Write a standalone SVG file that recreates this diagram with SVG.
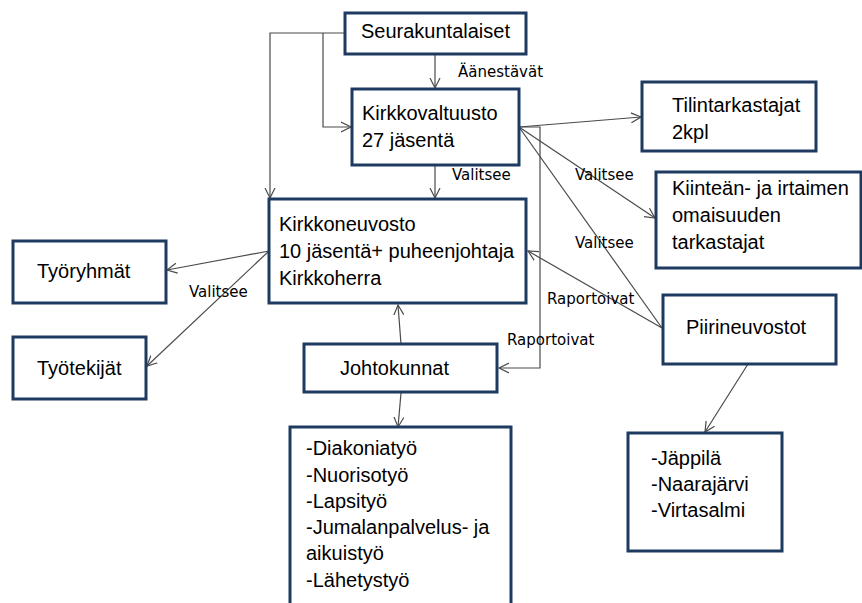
<svg xmlns="http://www.w3.org/2000/svg" width="862" height="603" viewBox="0 0 862 603">
<style>
.box{fill:#fff;stroke:#1f3a60;stroke-width:3}
.t{font-family:"Liberation Sans",Arial,sans-serif;font-size:20px;fill:#000}
.lbl{font-family:"DejaVu Sans",Verdana,sans-serif;font-size:15px;fill:#000}
.c{fill:none;stroke:#4a4a4a;stroke-width:1.2}
.a{marker-end:url(#arr)}
</style>
<defs>
<marker id="arr" markerUnits="userSpaceOnUse" markerWidth="12" markerHeight="12" refX="10" refY="5" orient="auto" viewBox="0 0 12 10">
<path d="M0,0 L10,5 L0,10" fill="none" stroke="#4a4a4a" stroke-width="1.2"/>
</marker>
</defs>
<rect width="862" height="603" fill="#fff"/>
<g id="connectors">
<line class="c a" x1="435" y1="54" x2="435" y2="88"/>
<line class="c a" x1="435" y1="165" x2="435" y2="198"/>
<polyline class="c a" points="345,33 270,33 270,198"/>
<polyline class="c a" points="323,33 323,127 351,127"/>
<line class="c a" x1="519" y1="127" x2="641" y2="117"/>
<line class="c a" x1="519" y1="127" x2="655" y2="218"/>
<line class="c" x1="519" y1="127" x2="662" y2="328"/>
<line class="c a" x1="662" y1="328" x2="528" y2="251"/>
<polyline class="c a" points="519,127 540,127 540,368 499,368" stroke="#7a7a7a"/>
<line class="c a" x1="401" y1="344" x2="398" y2="305"/>
<line class="c a" x1="401" y1="393" x2="398" y2="427"/>
<line class="c a" x1="269" y1="251" x2="167" y2="270"/>
<line class="c a" x1="269" y1="251" x2="147" y2="366"/>
<line class="c a" x1="748" y1="364" x2="705" y2="432"/>
<text class="lbl" x="458" y="77">Äänestävät</text>
<text class="lbl" x="452" y="180">Valitsee</text>
<text class="lbl" x="575" y="180">Valitsee</text>
<text class="lbl" x="575" y="248">Valitsee</text>
<text class="lbl" x="547" y="304">Raportoivat</text>
<text class="lbl" x="507" y="345">Raportoivat</text>
<text class="lbl" x="189" y="297">Valitsee</text>
</g>
<g id="seurakuntalaiset">
<rect class="box" x="345" y="13" width="181" height="41"/>
<text class="t" x="435.5" y="38" text-anchor="middle">Seurakuntalaiset</text>
</g>
<g id="kirkkovaltuusto">
<rect class="box" x="352" y="89" width="167" height="76"/>
<text class="t" x="362" y="120">Kirkkovaltuusto</text>
<text class="t" x="362" y="147">27 jäsentä</text>
</g>
<g id="kirkkoneuvosto">
<rect class="box" x="269" y="199" width="257" height="104"/>
<text class="t" x="279" y="231">Kirkkoneuvosto</text>
<text class="t" x="279" y="258">10 jäsentä+ puheenjohtaja</text>
<text class="t" x="279" y="285">Kirkkoherra</text>
</g>
<g id="tilintarkastajat">
<rect class="box" x="642" y="82" width="174" height="69"/>
<text class="t" x="672" y="112">Tilintarkastajat</text>
<text class="t" x="672" y="139">2kpl</text>
</g>
<g id="kiintean">
<rect class="box" x="656" y="172" width="205" height="96"/>
<text class="t" x="672" y="195">Kiinteän- ja irtaimen</text>
<text class="t" x="672" y="222">omaisuuden</text>
<text class="t" x="672" y="249">tarkastajat</text>
</g>
<g id="tyoryhmat">
<rect class="box" x="13" y="241" width="153" height="62"/>
<text class="t" x="37" y="278">Työryhmät</text>
</g>
<g id="tyotekijat">
<rect class="box" x="13" y="337" width="133" height="62"/>
<text class="t" x="37" y="375">Työtekijät</text>
</g>
<g id="piirineuvostot">
<rect class="box" x="663" y="295" width="173" height="69"/>
<text class="t" x="686" y="334">Piirineuvostot</text>
</g>
<g id="johtokunnat">
<rect class="box" x="304" y="344" width="193" height="48"/>
<text class="t" x="340" y="375">Johtokunnat</text>
</g>
<g id="tyomuodot">
<rect class="box" x="290" y="427" width="221" height="185"/>
<text class="t" x="306" y="455">-Diakoniatyö</text>
<text class="t" x="306" y="482">-Nuorisotyö</text>
<text class="t" x="306" y="508">-Lapsityö</text>
<text class="t" x="306" y="534">-Jumalanpalvelus- ja</text>
<text class="t" x="306" y="560">aikuistyö</text>
<text class="t" x="306" y="587">-Lähetystyö</text>
</g>
<g id="piirit">
<rect class="box" x="628" y="433" width="154" height="118"/>
<text class="t" x="651" y="465">-Jäppilä</text>
<text class="t" x="651" y="491">-Naarajärvi</text>
<text class="t" x="651" y="517">-Virtasalmi</text>
</g>
</svg>
